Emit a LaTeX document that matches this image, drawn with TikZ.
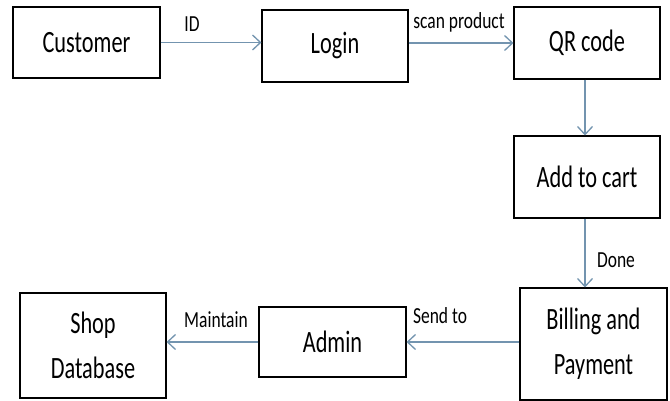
\documentclass[tikz,border=0pt]{standalone}
\usepackage{fontspec}
\setmainfont{Carlito}
\newfontfamily\boxfont{Carlito}[FakeStretch=0.72]
\newfontfamily\lblfont{Carlito}[FakeStretch=0.76]
\usetikzlibrary{arrows.meta}
\definecolor{linec}{RGB}{115,148,175}
\begin{document}
\begin{tikzpicture}[x=1pt,y=-1pt,
  box/.style={draw=black, line width=1.1pt, inner sep=0pt, align=center,
    font=\boxfont\fontsize{31}{45}\selectfont},
  conn/.style={draw=linec, line width=1.3pt, -{Straight Barb[length=8pt,width=15pt]}},
  lbl/.style={font=\lblfont\fontsize{23}{27}\selectfont, anchor=base, inner sep=0pt}]
\useasboundingbox[fill=white] (0,0) rectangle (670,401);
\node[box, minimum width=147pt, minimum height=71pt] (cust) at (86.5,42.5) {Customer};
\node[box, minimum width=146pt, minimum height=72pt] (login) at (335,46) {Login};
\node[box, minimum width=146pt, minimum height=72pt] (qr) at (587,43) {QR code};
\node[box, minimum width=146pt, minimum height=82pt] (cart) at (587,177) {Add to cart};
\node[box, minimum width=147pt, minimum height=112pt] (bill) at (593.5,344) {Billing and\\Payment};
\node[box, minimum width=147pt, minimum height=70pt] (admin) at (332.5,342) {Admin};
\node[box, minimum width=146pt, minimum height=105pt] (shop) at (93,345.5) {Shop\\Database};
\draw[conn] (cust.east) -- (cust.east -| login.west);
\draw[conn] (qr.west -| login.east) -- (qr.west);
\draw[conn] (qr.south -| 585,0) -- (cart.north -| 585,0);
\draw[conn] (cart.south -| 585,0) -- (bill.north -| 585,0);
\draw[conn] (admin.east -| bill.west) -- (admin.east);
\draw[conn] (admin.west) -- (admin.west -| shop.east);
\node[lbl] (lid) at (192,32) {ID};
\node[lbl] (lscan) at (459,29) {scan product};
\node[lbl] (ldone) at (616,267) {Done};
\node[lbl] (lsend) at (440,323) {Send to};
\node[lbl] (lmaint) at (216,327) {Maintain};
\end{tikzpicture}
\end{document}
